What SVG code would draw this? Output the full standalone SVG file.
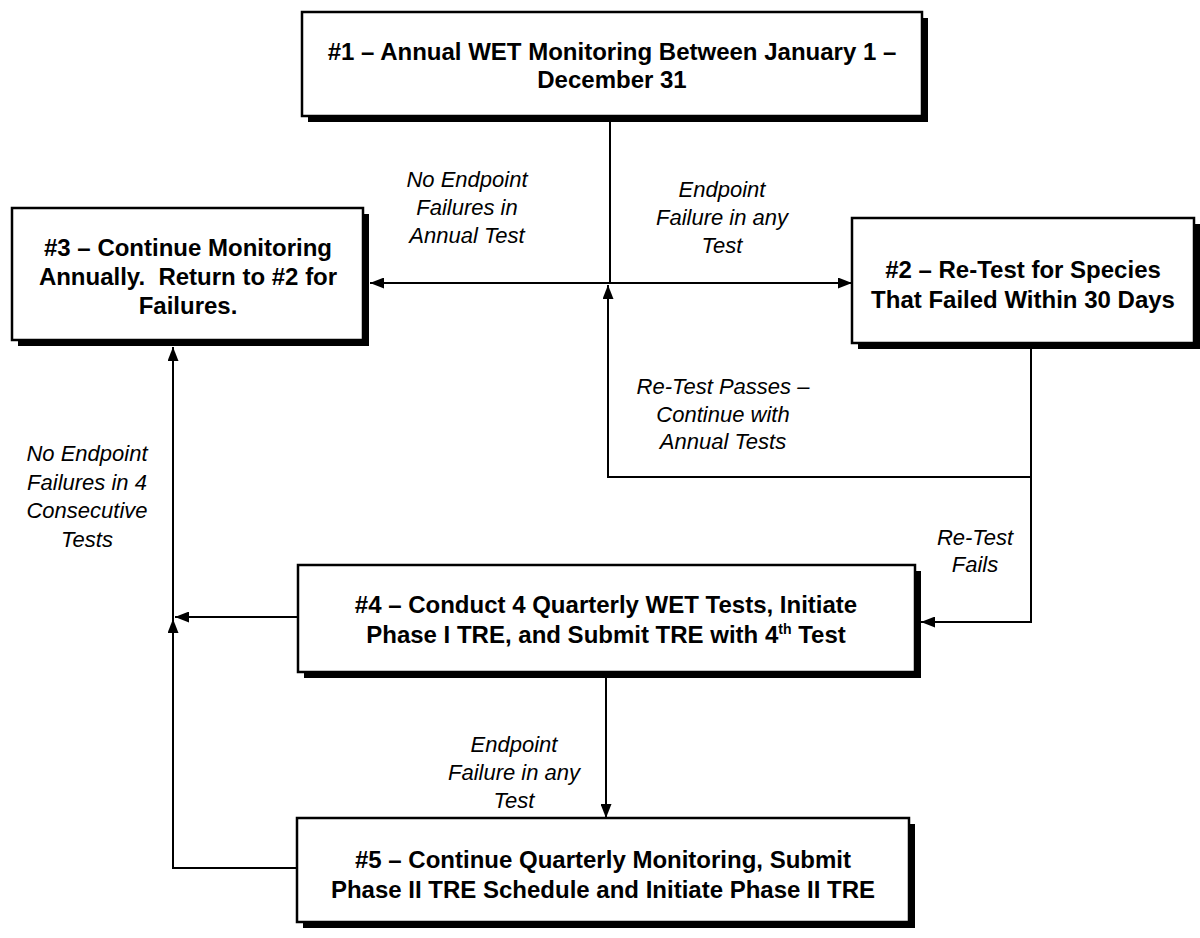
<svg xmlns="http://www.w3.org/2000/svg" width="1200" height="938" viewBox="0 0 1200 938">
<defs>
<style>
.box{fill:#fff;stroke:#000;stroke-width:2.5}
.sh{fill:#000}
.bt{font-family:"Liberation Sans",Arial,sans-serif;font-weight:bold;font-size:24px;text-anchor:middle;fill:#000}
.lt{font-family:"Liberation Sans",Arial,sans-serif;font-style:italic;font-size:22px;text-anchor:middle;fill:#000}
.ln{fill:none;stroke:#000;stroke-width:2}
</style>
<marker id="a" viewBox="0 0 14 11" refX="14" refY="5.5" markerWidth="14" markerHeight="11" markerUnits="userSpaceOnUse" orient="auto-start-reverse">
<path d="M0,0 L14,5.5 L0,11 z" fill="#000"/>
</marker>
</defs>
<rect width="1200" height="938" fill="#fff"/>

<g id="connectors">
<line class="ln" x1="610" y1="122" x2="610" y2="283"/>
<line class="ln" x1="370" y1="283" x2="852" y2="283" marker-start="url(#a)" marker-end="url(#a)"/>
<polyline class="ln" points="1031,349 1031,477 608,477 608,285" marker-end="url(#a)"/>
<polyline class="ln" points="1031,477 1031,622 921,622" marker-end="url(#a)"/>
<line class="ln" x1="298" y1="617" x2="175" y2="617" marker-end="url(#a)"/>
<polyline class="ln" points="297,868 173,868 173,619" marker-end="url(#a)"/>
<line class="ln" x1="173" y1="619" x2="173" y2="347" marker-end="url(#a)"/>
<line class="ln" x1="606" y1="678" x2="606" y2="818" marker-end="url(#a)"/>
<g id="labels">
<text class="lt"><tspan x="467" y="187">No Endpoint</tspan><tspan x="467" y="215">Failures in</tspan><tspan x="467" y="243">Annual Test</tspan></text>
<text class="lt"><tspan x="722" y="197">Endpoint</tspan><tspan x="722" y="225">Failure in any</tspan><tspan x="722" y="253">Test</tspan></text>
<text class="lt"><tspan x="723" y="394">Re-Test Passes –</tspan><tspan x="723" y="422">Continue with</tspan><tspan x="723" y="449">Annual Tests</tspan></text>
<text class="lt"><tspan x="975" y="545">Re-Test</tspan><tspan x="975" y="572">Fails</tspan></text>
<text class="lt"><tspan x="87" y="461">No Endpoint</tspan><tspan x="87" y="490">Failures in 4</tspan><tspan x="87" y="518">Consecutive</tspan><tspan x="87" y="547">Tests</tspan></text>
<text class="lt"><tspan x="514" y="752">Endpoint</tspan><tspan x="514" y="780">Failure in any</tspan><tspan x="514" y="808">Test</tspan></text>
</g>
</g>

<g id="n1">
<rect class="sh" x="308" y="18" width="620" height="104"/>
<rect class="box" x="302" y="12" width="620" height="104"/>
<text class="bt"><tspan x="612" y="60">#1 – Annual WET Monitoring Between January 1 –</tspan><tspan x="612" y="88">December 31</tspan></text>
</g>
<g id="n3">
<rect class="sh" x="18" y="214" width="351" height="132"/>
<rect class="box" x="12" y="208" width="351" height="132"/>
<text class="bt"><tspan x="188" y="256">#3 – Continue Monitoring</tspan><tspan x="188" y="285">Annually.&#160; Return to #2 for</tspan><tspan x="188" y="314">Failures.</tspan></text>
</g>
<g id="n2">
<rect class="sh" x="858" y="224" width="342" height="125"/>
<rect class="box" x="852" y="218" width="342" height="125"/>
<text class="bt"><tspan x="1023" y="278">#2 – Re-Test for Species</tspan><tspan x="1023" y="308">That Failed Within 30 Days</tspan></text>
</g>
<g id="n4">
<rect class="sh" x="304" y="571" width="617" height="107"/>
<rect class="box" x="298" y="565" width="617" height="107"/>
<text class="bt"><tspan x="606" y="613">#4 – Conduct 4 Quarterly WET Tests, Initiate</tspan><tspan x="606" y="643">Phase I TRE, and Submit TRE with 4<tspan font-size="14" dy="-9">th</tspan><tspan dy="9"> Test</tspan></tspan></text>
</g>
<g id="n5">
<rect class="sh" x="303" y="824" width="612" height="104"/>
<rect class="box" x="297" y="818" width="612" height="104"/>
<text class="bt"><tspan x="603" y="868">#5 – Continue Quarterly Monitoring, Submit</tspan><tspan x="603" y="898">Phase II TRE Schedule and Initiate Phase II TRE</tspan></text>
</g>
</svg>
